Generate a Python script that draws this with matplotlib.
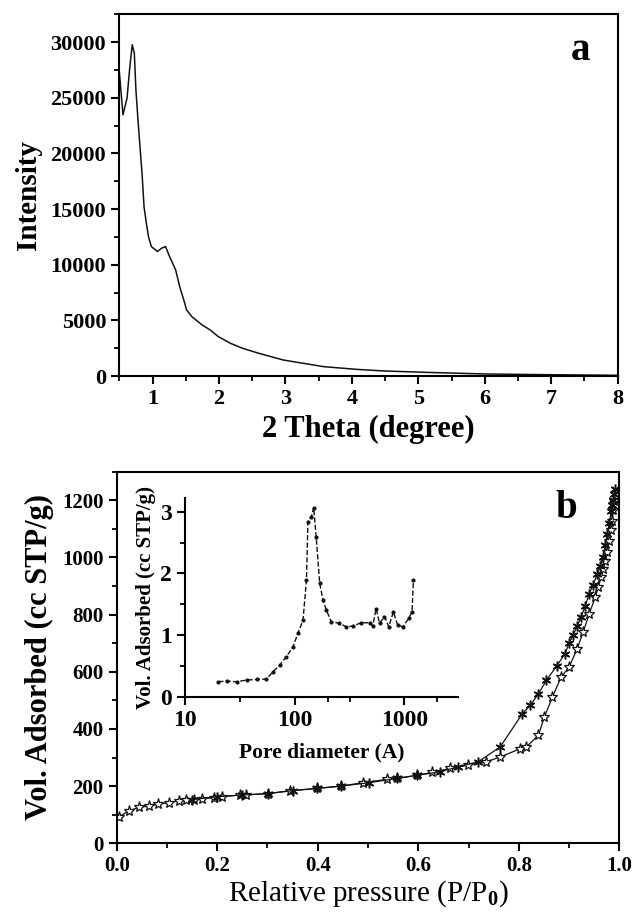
import matplotlib.pyplot as plt
from matplotlib.ticker import MultipleLocator, FixedLocator, NullFormatter

plt.rcParams['font.family'] = ['Liberation Serif', 'DejaVu Serif']
plt.rcParams['font.weight'] = 'bold'
plt.rcParams['mathtext.fontset'] = 'custom'
plt.rcParams['mathtext.rm'] = 'Liberation Serif'

# panel a: small angle XRD
theta2 = [0.5, 0.555, 0.616, 0.659, 0.695, 0.726, 0.75, 0.781, 0.811, 0.842, 0.872,
          0.903, 0.939, 0.982, 1.074, 1.135, 1.196, 1.257, 1.348, 1.409, 1.47, 1.513,
          1.592, 1.745, 1.867, 1.989, 2.172, 2.355, 2.599, 2.965, 3.27, 3.575, 4.063,
          4.49, 5.1, 6.016, 6.93, 8.0]
intensity = [27360, 23470, 24960, 27810, 29760, 29010, 25710, 23020, 20620, 18220, 15220,
             13880, 12530, 11630, 11180, 11480, 11630, 10730, 9530, 8030, 6830, 5930,
             5330, 4590, 4140, 3540, 2940, 2490, 2040, 1440, 1140, 840, 600,
             450, 330, 180, 120, 60]

# panel b: N2 isotherm
ads_p = [0.004, 0.024, 0.044, 0.064, 0.082, 0.104, 0.124, 0.137, 0.153, 0.169, 0.193,
         0.209, 0.245, 0.257, 0.301, 0.345, 0.398, 0.446, 0.49, 0.538, 0.558, 0.598,
         0.627, 0.663, 0.699, 0.735, 0.763, 0.803, 0.815, 0.839, 0.851, 0.867, 0.884,
         0.9, 0.916, 0.928, 0.94, 0.952, 0.958, 0.964, 0.968, 0.972, 0.976, 0.98,
         0.983, 0.986, 0.988, 0.99]
ads_v = [93, 113, 126, 130, 137, 142, 149, 151, 153, 155, 160,
         163, 169, 169, 174, 184, 192, 200, 212, 224, 227, 238,
         248, 262, 273, 285, 302, 331, 337, 378, 442, 512, 581,
         616, 680, 738, 802, 860, 895, 930, 960, 988, 1020, 1058,
         1095, 1128, 1165, 1198]
des_p = [0.992, 0.99, 0.988, 0.986, 0.984, 0.98, 0.976, 0.972, 0.968, 0.962, 0.956,
         0.948, 0.94, 0.932, 0.924, 0.916, 0.908, 0.9, 0.892, 0.876,
         0.855, 0.839, 0.823, 0.807, 0.763, 0.719, 0.679, 0.643, 0.598, 0.558, 0.502,
         0.446, 0.398, 0.35, 0.301, 0.25, 0.2, 0.15]
des_v = [1238, 1221, 1200, 1185, 1163, 1120, 1081, 1045, 1000, 970, 942,
         905, 872, 830, 791, 760, 727, 700, 663, 622,
         570, 523, 483, 453, 337, 285, 267, 250, 238, 227, 212,
         200, 192, 184, 174, 169, 163, 153]

# inset: pore size distribution
pore_d = [20.1, 23.9, 29.5, 36.4, 44.9, 55.2, 63.5, 73.1, 84, 96.6, 107, 119, 128, 132,
          142, 149, 157, 169, 181, 194, 215, 256, 295, 339, 403, 481, 515, 552, 593,
          658, 721, 794, 869, 966, 1094, 1174, 1208]
pore_v = [0.243, 0.254, 0.243, 0.27, 0.28, 0.286, 0.405, 0.514, 0.65, 0.81, 1.03, 1.24,
          1.89, 2.84, 2.92, 3.07, 2.59, 1.84, 1.57, 1.41, 1.22, 1.19, 1.135, 1.146, 1.2,
          1.2, 1.146, 1.43, 1.19, 1.3, 1.135, 1.38, 1.16, 1.135, 1.27, 1.38, 1.89]

fig = plt.figure(figsize=(6.33, 9.14), dpi=100)


def style(ax, size):
    for s in ax.spines.values():
        s.set_linewidth(1.5)
    ax.tick_params(which='major', direction='out', length=6, width=1.5, labelsize=size)
    ax.tick_params(which='minor', direction='out', length=3.5, width=1.3)
    for lab in ax.get_xticklabels() + ax.get_yticklabels():
        lab.set_fontweight('bold')


# ---- panel a
ax1 = fig.add_axes([119.3 / 633, 1 - 376 / 914, (617.7 - 119.3) / 633, (376 - 14.3) / 914])
ax1.plot(theta2, intensity, color='#111111', lw=1.1)
ax1.set_xlim(0.5, 8)
ax1.set_ylim(0, 32500)
ax1.xaxis.set_major_locator(MultipleLocator(1))
ax1.xaxis.set_minor_locator(MultipleLocator(0.5))
ax1.yaxis.set_major_locator(MultipleLocator(5000))
ax1.yaxis.set_minor_locator(MultipleLocator(2500))
style(ax1, 16)
ax1.set_xlabel('2 Theta (degree)', fontsize=22, fontweight='bold', labelpad=4)
ax1.set_ylabel('Intensity', fontsize=21, fontweight='bold', labelpad=6)
ax1.text(0.925, 0.9, 'a', transform=ax1.transAxes, fontsize=28, fontweight='bold',
         ha='center', va='center')

# ---- panel b
ax2 = fig.add_axes([116.7 / 633, 1 - 843.3 / 914, (619.3 - 116.7) / 633, (843.3 - 471.7) / 914])
ax2.plot(ads_p, ads_v, color='#111111', lw=0.9, marker='*', ms=8, mfc='white',
         mec='#111111', mew=0.9)
ax2.plot(des_p, des_v, color='#111111', lw=0.9, marker=(6, 2, 0), ms=7,
         mec='#111111', mew=1.1)
ax2.set_xlim(0, 1.0)
ax2.set_ylim(0, 1300)
ax2.xaxis.set_major_locator(MultipleLocator(0.2))
ax2.xaxis.set_minor_locator(MultipleLocator(0.1))
ax2.yaxis.set_major_locator(MultipleLocator(200))
ax2.yaxis.set_minor_locator(MultipleLocator(100))
ax2.xaxis.set_major_formatter(plt.FormatStrFormatter('%.1f'))
style(ax2, 15)
ax2.set_xlabel('Relative pressure (P/P$_0$)', fontsize=21, fontweight='normal', labelpad=1)
ax2.set_ylabel('Vol. Adsorbed (cc STP/g)', fontsize=22, fontweight='bold', labelpad=6)
ax2.text(0.895, 0.9, 'b', transform=ax2.transAxes, fontsize=28, fontweight='bold',
         ha='center', va='center')

# ---- inset
ax3 = fig.add_axes([185 / 633, 1 - 696.7 / 914, (458.3 - 185) / 633, (696.7 - 498.3) / 914])
ax3.plot(pore_d, pore_v, color='#111111', lw=1.0, ls='--', marker='o', ms=2)
ax3.set_xscale('log')
ax3.set_xlim(10, 3100)
ax3.set_ylim(0, 3.22)
ax3.spines['top'].set_visible(False)
ax3.spines['right'].set_visible(False)
ax3.xaxis.set_major_locator(FixedLocator([10, 100, 1000]))
ax3.xaxis.set_minor_locator(FixedLocator([31.6, 200, 316, 2000]))
ax3.xaxis.set_minor_formatter(NullFormatter())
ax3.set_xticklabels(['10', '100', '1000'])
ax3.yaxis.set_major_locator(MultipleLocator(1))
ax3.yaxis.set_minor_locator(MultipleLocator(0.5))
style(ax3, 17)
ax3.set_xlabel('Pore diameter (A)', fontsize=15.5, fontweight='bold', labelpad=8)
ax3.set_ylabel('Vol. Adsorbed (cc STP/g)', fontsize=15, fontweight='bold', labelpad=3)

fig.savefig('out.png', dpi=100)
